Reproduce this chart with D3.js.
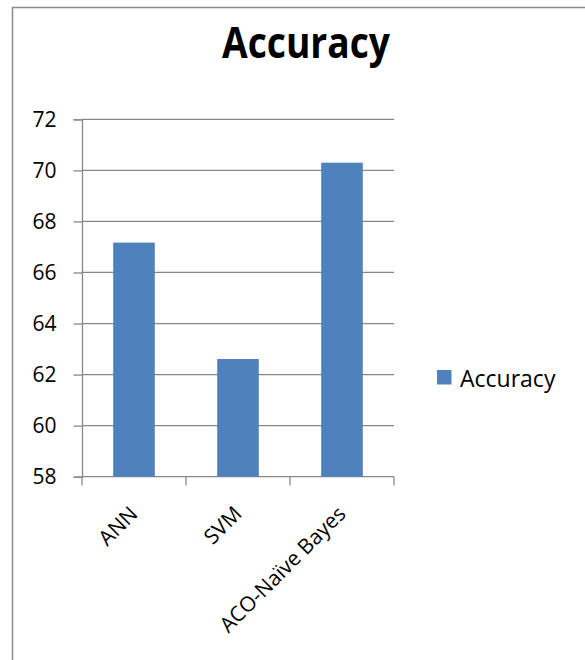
<!DOCTYPE html>
<html>
<head>
<meta charset="utf-8">
<script src="https://cdn.jsdelivr.net/npm/d3@7"></script>
<style>
  html, body { margin: 0; padding: 0; background: #fff; }
  svg { display: block; }
  text { font-family: "Open Sans", "Noto Sans", sans-serif; fill: #000; }
</style>
</head>
<body>
<svg id="chart" width="585" height="660"></svg>
<script>
// Chart data
const categories = ["ANN", "SVM", "ACO-Naïve Bayes"];
const accuracy = [67.17, 62.61, 70.30];
const yTicks = [58, 60, 62, 64, 66, 68, 70, 72];
const seriesName = "Accuracy";

const svg = d3.select("#chart");
const W = 585, H = 660;

// Outer chart border
svg.append("path")
  .attr("d", `M12.5,${H} V7.5 H${W}`)
  .attr("fill", "none")
  .attr("stroke", "#8c8c8c")
  .attr("stroke-width", 1.5);

const plot = { left: 82, right: 394, top: 119.3, bottom: 476.7 };

const x = d3.scaleBand()
  .domain(categories)
  .range([plot.left, plot.right])
  .paddingInner(0.6)
  .paddingOuter(0.3);

const y = d3.scaleLinear()
  .domain([58, 72])
  .range([plot.bottom, plot.top]);

// Title
svg.append("text")
  .attr("x", 222)
  .attr("y", 57.7)
  .attr("textLength", 168)
  .attr("lengthAdjust", "spacingAndGlyphs")
  .style("font-size", "43px")
  .style("font-weight", "bold")
  .text(seriesName);

// Horizontal gridlines
svg.append("g")
  .selectAll("line")
  .data(yTicks.slice(1))
  .join("line")
  .attr("x1", plot.left)
  .attr("x2", plot.right)
  .attr("y1", d => y(d))
  .attr("y2", d => y(d))
  .attr("stroke", "#878787")
  .attr("stroke-width", 1.3);

// Y axis
const yAxis = svg.append("g")
  .attr("transform", `translate(${plot.left},0)`)
  .call(d3.axisLeft(y).tickValues(yTicks).tickSize(8.5).tickPadding(17).tickFormat(d3.format("d")));
yAxis.selectAll("path, line").attr("stroke", "#878787").attr("stroke-width", 1.3);
yAxis.selectAll("text")
  .style("font-size", "21px")
  .style("font-family", "'Open Sans', sans-serif")
  .attr("fill", "#000");

// X axis with tick marks at category boundaries
const xAxisG = svg.append("g").attr("transform", `translate(0,${plot.bottom})`);
xAxisG.append("line")
  .attr("x1", plot.left).attr("x2", plot.right)
  .attr("stroke", "#878787").attr("stroke-width", 1.3);
const boundaries = d3.range(categories.length + 1).map(i => plot.left + i * (plot.right - plot.left) / categories.length);
xAxisG.selectAll("line.tick")
  .data(boundaries)
  .join("line")
  .attr("class", "tick")
  .attr("x1", d => d).attr("x2", d => d)
  .attr("y1", 0).attr("y2", 8.5)
  .attr("stroke", "#878787").attr("stroke-width", 1.3);

// Bars
svg.append("g")
  .selectAll("rect")
  .data(categories.map((c, i) => ({ c, v: accuracy[i] })))
  .join("rect")
  .attr("x", d => x(d.c))
  .attr("width", x.bandwidth())
  .attr("y", d => y(d.v))
  .attr("height", d => y(58) - y(d.v))
  .attr("fill", "#4F81BD");

// Rotated category labels
svg.append("g")
  .selectAll("text")
  .data(categories)
  .join("text")
  .attr("transform", d => `translate(${x(d) + x.bandwidth() / 2 + 5},${plot.bottom + 38.5}) rotate(-45)`)
  .attr("text-anchor", "end")
  .style("font-size", "21px")
  .text(d => d);

// Legend
const legend = svg.append("g").attr("transform", "translate(437,370)");
legend.append("rect").attr("width", 14.5).attr("height", 14.5).attr("fill", "#4F81BD");
legend.append("text")
  .attr("x", 23)
  .attr("y", 16.7)
  .style("font-size", "23px")
  .text(seriesName);
</script>
</body>
</html>
